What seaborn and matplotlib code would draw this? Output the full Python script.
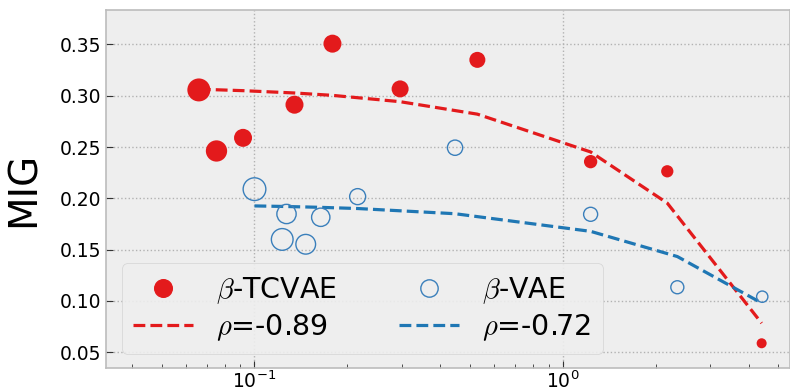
import numpy as np
import pandas as pd
import matplotlib
matplotlib.use("Agg")
import matplotlib.pyplot as plt
from matplotlib.lines import Line2D
import seaborn as sns

# ---- data ----
tcvae_x = [0.066, 0.0753, 0.0918, 0.1348, 0.179, 0.2966, 0.528, 1.23, 2.18, 4.41]
tcvae_y = [0.3057, 0.2462, 0.259, 0.2913, 0.3508, 0.3067, 0.335, 0.2358, 0.2264, 0.0588]
tcvae_s = [274, 235, 168, 168, 168, 150, 133, 92, 78, 52]

vae_x = [0.1, 0.127, 0.123, 0.1466, 0.164, 0.216, 0.447, 1.23, 2.35, 4.43]
vae_y = [0.209, 0.1848, 0.160, 0.1553, 0.1816, 0.2017, 0.2494, 0.1845, 0.1134, 0.1042]
vae_s = [267, 193, 244, 201, 174, 133, 121, 102, 88, 66]

series_labels = [r"$\beta$-TCVAE", r"$\beta$-VAE"]
fit_labels = [r"$\rho$=-0.89", r"$\rho$=-0.72"]
y_label = "MIG"

RED = "#e31a1c"
BLUE = "#1f77b4"

plt.style.use("bmh")
plt.rcParams["font.family"] = ["DejaVu Sans"]

fig = plt.figure(figsize=(7.9, 3.91), dpi=100)
ax = fig.add_axes([106 / 790, 1 - 368 / 391, 1 - 106 / 790, (368 - 10) / 391])

df_t = pd.DataFrame({"x": tcvae_x, "y": tcvae_y, "s": tcvae_s})
df_v = pd.DataFrame({"x": vae_x, "y": vae_y, "s": vae_s})

# linear fits (in x) evaluated at the data points
pt = np.polyfit(df_t["x"], df_t["y"], 1)
pv = np.polyfit(df_v["x"], df_v["y"], 1)
df_t["fit"] = np.polyval(pt, df_t["x"])
df_v["fit"] = np.polyval(pv, df_v["x"])

sns.scatterplot(data=df_t, x="x", y="y", size="s",
                sizes=(min(tcvae_s), max(tcvae_s)), color=RED,
                edgecolor=RED, linewidth=0, legend=False, ax=ax, zorder=3)
sns.scatterplot(data=df_v, x="x", y="y", size="s",
                sizes=(min(vae_s), max(vae_s)), facecolor="none",
                edgecolor="#3a7fbb", linewidth=1.0, legend=False, ax=ax, zorder=3)

sns.lineplot(data=df_t, x="x", y="fit", color=RED, linestyle="--",
             linewidth=2.3, ax=ax, zorder=2)
sns.lineplot(data=df_v, x="x", y="fit", color=BLUE, linestyle="--",
             linewidth=2.3, ax=ax, zorder=2)

ax.set_xscale("log")
ax.set_xlim(0.033, 5.45)
ax.set_ylim(0.0347, 0.3836)
ax.set_yticks([0.05, 0.10, 0.15, 0.20, 0.25, 0.30, 0.35])
ax.set_xlabel("")
ax.set_ylabel(y_label, fontsize=28, labelpad=12)

ax.set_facecolor("#eeeeee")
ax.grid(True, which="major", linestyle=":", color="#b2b2b2", linewidth=1.0)
ax.grid(False, which="minor")
for sp in ax.spines.values():
    sp.set_color("#bcbcbc")
    sp.set_linewidth(1.2)

ax.tick_params(axis="both", which="major", direction="in", labelsize=13.5,
               length=5, color="#333333")
ax.tick_params(axis="x", which="major", pad=2)
ax.tick_params(axis="x", which="minor", direction="in", length=3,
               color="#333333")

handles = [
    Line2D([], [], linestyle="none", marker="o", markersize=12.7,
           markerfacecolor=RED, markeredgecolor=RED),
    Line2D([], [], color=RED, linestyle="--", linewidth=2.3),
    Line2D([], [], linestyle="none", marker="o", markersize=12.5,
           markerfacecolor="none", markeredgecolor="#3a7fbb", markeredgewidth=1.0),
    Line2D([], [], color=BLUE, linestyle="--", linewidth=2.3),
]
labels = [series_labels[0], fit_labels[0], series_labels[1], fit_labels[1]]
leg = ax.legend(handles, labels, ncol=2, loc="lower left",
                bbox_to_anchor=(0.0234, 0.039), borderaxespad=0,
                fontsize=20.5, handlelength=2.1, columnspacing=2.2,
                labelspacing=0.22, handletextpad=0.8,
                frameon=True, fancybox=True)
leg.get_frame().set_facecolor("#eeeeee")
leg.get_frame().set_edgecolor("#d0d0d0")
leg.get_frame().set_alpha(0.9)

fig.savefig("out.png", dpi=100)
